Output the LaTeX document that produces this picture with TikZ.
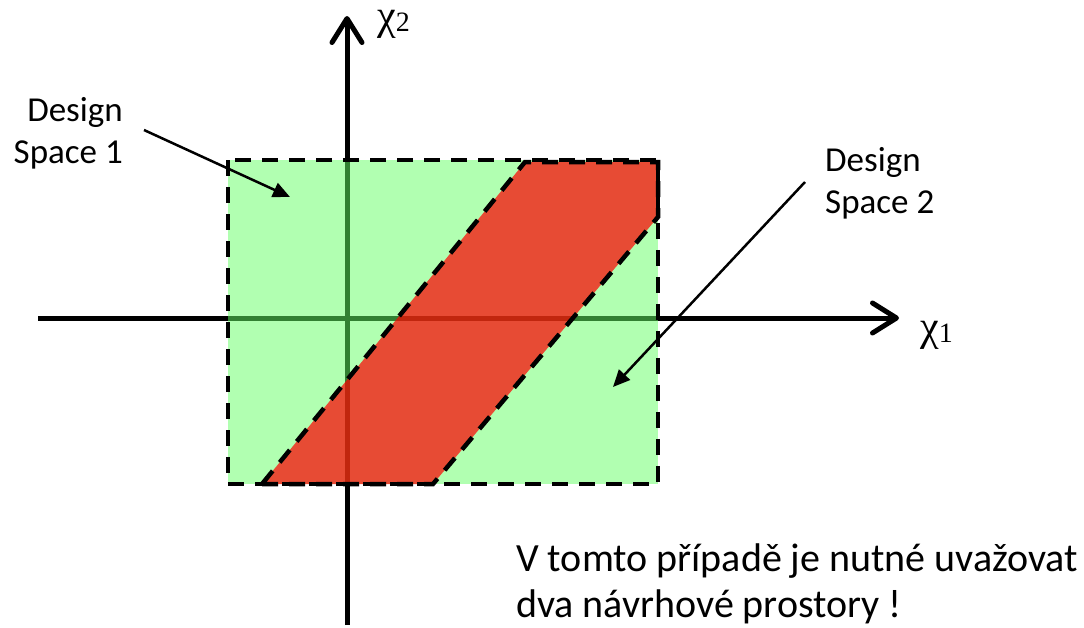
\documentclass[tikz,border=0pt]{standalone}
\usepackage{fontspec}
\setmainfont{Carlito}
\newfontfamily\greekfont{Liberation Serif}
\usetikzlibrary{arrows.meta}
\definecolor{spacegreen}{RGB}{100,255,100}
\definecolor{spacered}{RGB}{255,0,0}
\tikzset{
	axis/.style={line width=5pt,-{Straight Barb[length=24pt,width=30pt,line cap=round,line join=round]}},
	border/.style={line width=4.5pt,dash pattern=on 16pt off 11pt},
	pointer/.style={line width=2.5pt,-{Triangle[length=17pt,width=15pt]}},
	label/.style={font=\fontsize{35}{42}\selectfont,inner sep=0pt},
	note/.style={font=\fontsize{40}{46}\selectfont,inner sep=0pt,align=left},
	chi/.style={font=\fontsize{42}{42}\greekfont,inner sep=0pt,text height=20pt,text depth=10pt}
}
\newcommand{\chisub}[1]{χ\raisebox{-0.15ex}{\fontsize{28}{28}\selectfont #1}}
\begin{document}
\begin{tikzpicture}[x=1pt,y=-1pt]
	\useasboundingbox (0,0) rectangle (1084,627);
	% osy
	\path
	(347,625) coordinate (Y0)
	(347,16) coordinate (Y1)
	(38,318) coordinate (X0)
	(899,318) coordinate (X1);
	\draw[axis] (Y0)--(Y1);
	\draw[axis] (X0)--(X1);
	\node[chi,anchor=base west] (chiy) at (377,29) {\chisub{2}};
	\node[chi,anchor=base west] (chix) at (920,340) {\chisub{1}};
	% prostor 1 a 2
	\path
	(228,160) coordinate (A)
	(658,484) coordinate (C)
	(262,484) coordinate (P1)
	(433,484) coordinate (P2)
	(658,217) coordinate (P3)
	(658,162) coordinate (P4)
	(525,162) coordinate (P5);
	\fill[spacegreen,fill opacity=0.5] (A) rectangle (C);
	\fill[spacered,fill opacity=0.7] (P1)--(P2)--(P3)--(P4)--(P5)--cycle;
	\draw[border] (A) rectangle (C);
	\draw[border] (P1)--(P2)--(P3)--(P4)--(P5)--cycle;
	% popisky
	\node[label,align=right,anchor=base east] (ds1) at (123,163) {Design\\Space 1};
	\node[label,align=left,anchor=base west] (ds2) at (825,213) {Design\\Space 2};
	\path
	(144,130) coordinate (S1)
	(290,197) coordinate (T1)
	(805,182) coordinate (S2)
	(613,387) coordinate (T2);
	\draw[pointer] (S1)--(T1);
	\draw[pointer] (S2)--(T2);
	\node[note,anchor=base west] (txt) at (516,617) {V tomto případě je nutné uvažovat\\dva návrhové prostory !};
\end{tikzpicture}
\end{document}
